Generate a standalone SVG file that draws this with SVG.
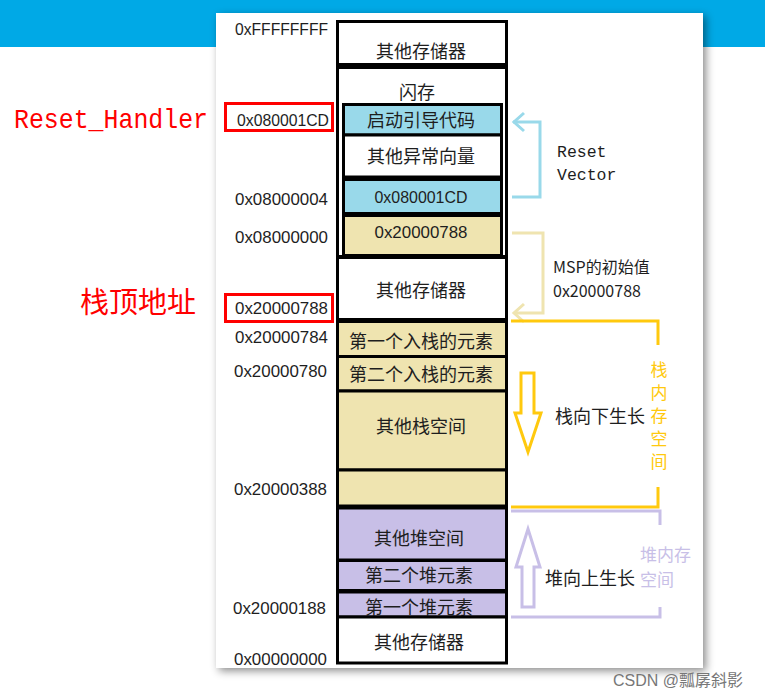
<svg xmlns="http://www.w3.org/2000/svg" width="765" height="698" viewBox="0 0 765 698">
<defs>
<filter id="sh" x="-5%" y="-5%" width="115%" height="115%">
<feDropShadow dx="3" dy="3" stdDeviation="4" flood-color="#000" flood-opacity="0.45"/>
</filter>
<style>
.box{stroke:#000;stroke-width:3}
.w{fill:#fff}.b{fill:#99D9EA}.t{fill:#EFE4B0}.p{fill:#C8BFE7}
.cn{font-family:"Noto Sans CJK SC","Noto Sans",sans-serif;font-size:18px;fill:#1e1e1e;text-anchor:middle;dominant-baseline:central}
.addr{font-family:"Liberation Sans",Arial,sans-serif;font-size:16.5px;fill:#1e1e1e;text-anchor:end;dominant-baseline:central}
.hx{font-family:"Liberation Sans",Arial,sans-serif;font-size:16.5px;fill:#1e1e1e;text-anchor:middle;dominant-baseline:central}
.mono{font-family:"Liberation Mono","DejaVu Sans Mono",monospace;font-size:16.5px;fill:#1e1e1e;dominant-baseline:central}
.lbl{font-family:"Noto Sans CJK SC","Liberation Sans",sans-serif;font-size:16px;fill:#1e1e1e;dominant-baseline:central}
.red{fill:none;stroke:#f00;stroke-width:3}
.ln{fill:none;stroke-width:3}
</style>
</defs>
<rect x="0" y="0" width="765" height="698" fill="#fff"/>
<rect x="0" y="0" width="765" height="47" fill="#00A9E6"/>
<rect x="216" y="13" width="487" height="655" fill="#fff" filter="url(#sh)"/>

<g id="mem-other-top"><rect class="box w" x="337.5" y="21.5" width="169" height="43"/><text class="cn" x="421" y="50">其他存储器</text></g>
<g id="flash"><rect class="box w" x="337.5" y="67.5" width="169" height="189"/><text class="cn" x="417" y="91">闪存</text></g>
<g id="boot"><rect class="box b" x="343.5" y="104.5" width="158" height="30.5"/><text class="cn" x="421" y="119">启动引导代码</text></g>
<g id="vectors"><rect class="box w" x="343.5" y="135" width="158" height="42"/><text class="cn" x="421" y="155">其他异常向量</text></g>
<g id="resetvec"><rect class="box b" x="343.5" y="179.5" width="158" height="34"/><text class="hx" x="421" y="197" textLength="93" lengthAdjust="spacingAndGlyphs">0x080001CD</text></g>
<g id="msp"><rect class="box t" x="343.5" y="215.5" width="158" height="40"/><text class="hx" x="421" y="232" textLength="93" lengthAdjust="spacingAndGlyphs">0x20000788</text></g>
<g id="mem-other-mid"><rect class="box w" x="337.5" y="257.5" width="169" height="62"/><text class="cn" x="421" y="289">其他存储器</text></g>
<g id="stack1"><rect class="box t" x="337.5" y="321.5" width="169" height="35"/><text class="cn" x="421" y="340">第一个入栈的元素</text></g>
<g id="stack2"><rect class="box t" x="337.5" y="356.5" width="169" height="34.5"/><text class="cn" x="421" y="373">第二个入栈的元素</text></g>
<g id="stack-other"><rect class="box t" x="337.5" y="391" width="169" height="79"/><text class="cn" x="421" y="425">其他栈空间</text></g>
<g id="stack-end"><rect class="box t" x="337.5" y="470" width="169" height="36"/></g>
<g id="heap-other"><rect class="box p" x="337.5" y="508" width="169" height="52"/><text class="cn" x="419" y="537">其他堆空间</text></g>
<g id="heap2"><rect class="box p" x="337.5" y="560.5" width="169" height="30"/><text class="cn" x="419" y="574">第二个堆元素</text></g>
<g id="heap1"><rect class="box p" x="337.5" y="592" width="169" height="25"/><text class="cn" x="419" y="606">第一个堆元素</text></g>
<g id="mem-other-bottom"><rect class="box w" x="337.5" y="617" width="169" height="46"/><text class="cn" x="419" y="641">其他存储器</text></g>

<g id="addresses">
<text class="addr" x="328" y="29" textLength="93" lengthAdjust="spacingAndGlyphs">0xFFFFFFFF</text>
<text class="addr" x="329" y="120" textLength="92" lengthAdjust="spacingAndGlyphs">0x080001CD</text>
<text class="addr" x="328" y="199" textLength="93" lengthAdjust="spacingAndGlyphs">0x08000004</text>
<text class="addr" x="328" y="237" textLength="93" lengthAdjust="spacingAndGlyphs">0x08000000</text>
<text class="addr" x="328" y="308" textLength="93" lengthAdjust="spacingAndGlyphs">0x20000788</text>
<text class="addr" x="328" y="337" textLength="93" lengthAdjust="spacingAndGlyphs">0x20000784</text>
<text class="addr" x="327" y="371" textLength="93" lengthAdjust="spacingAndGlyphs">0x20000780</text>
<text class="addr" x="327" y="489" textLength="93" lengthAdjust="spacingAndGlyphs">0x20000388</text>
<text class="addr" x="326" y="608" textLength="93" lengthAdjust="spacingAndGlyphs">0x20000188</text>
<text class="addr" x="327" y="659" textLength="93" lengthAdjust="spacingAndGlyphs">0x00000000</text>
<rect class="red" x="225.5" y="103.5" width="107" height="27"/>
<rect class="red" x="225.5" y="294.5" width="107" height="27"/>
</g>

<g id="side-labels">
<text x="14" y="128" font-family="Liberation Mono,monospace" font-size="28" fill="#f00" textLength="194" lengthAdjust="spacingAndGlyphs">Reset_Handler</text>
<text x="80" y="313" font-family="Noto Sans CJK SC,sans-serif" font-size="29" fill="#f00">栈顶地址</text>
</g>

<g id="connectors">
<polyline class="ln" stroke="#99D9EA" points="513,122 540,122 540,197 512,197"/>
<polyline class="ln" stroke="#99D9EA" points="524,113 514,122 524,131"/>
<polyline class="ln" stroke="#EFE4B0" points="512,233 543,233 543,313 514,313"/>
<polyline class="ln" stroke="#EFE4B0" points="524,304 514,313 524,322"/>
<polyline class="ln" stroke="#FFC90E" points="658,345 658,321 511,321"/>
<polyline class="ln" stroke="#FFC90E" points="658,487 658,507 511,507"/>
<polyline class="ln" stroke="#C8BFE7" points="660,525 660,511 511,511"/>
<polyline class="ln" stroke="#C8BFE7" points="660,607 660,617 511,617"/>
<polygon class="ln" stroke="#FFC90E" fill="#fff" points="521,373 534,373 534,413 541,413 528,452 515,413 521,413"/>
<polygon class="ln" stroke="#C8BFE7" fill="#fff" points="528,529 540,567 534,567 534,607 522,607 522,567 516,567"/>
</g>

<g id="annotations">
<text class="mono" x="557" y="152">Reset</text>
<text class="mono" x="557" y="175">Vector</text>
<text class="lbl" x="553" y="266">MSP的初始值</text>
<text class="lbl" x="553" y="290" font-family="Liberation Sans,sans-serif">0x20000788</text>
<text class="cn" x="600" y="415">栈向下生长</text>
<text class="cn" x="590" y="577">堆向上生长</text>
<g font-family="Noto Sans CJK SC,sans-serif" font-size="17" fill="#FFC90E" text-anchor="middle" dominant-baseline="central">
<text x="659" y="368">栈</text><text x="659" y="391">内</text><text x="659" y="414">存</text><text x="659" y="437">空</text><text x="659" y="460">间</text>
</g>
<g font-family="Noto Sans CJK SC,sans-serif" font-size="17" fill="#C8BFE7" dominant-baseline="central">
<text x="640" y="553">堆内存</text><text x="640" y="578">空间</text>
</g>
</g>

<text x="613" y="686" font-family="Liberation Sans,Noto Sans CJK SC,sans-serif" font-size="16" fill="#777">CSDN @瓢孱斜影</text>
</svg>
